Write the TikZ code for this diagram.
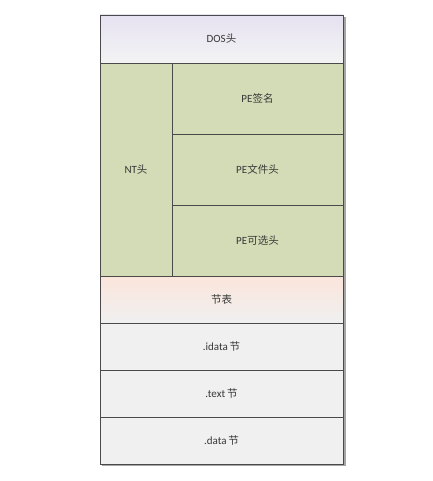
\documentclass[tikz,border=0pt]{standalone}
\usepackage{fontspec}
\setmainfont{Carlito}
\newfontfamily\cjk{Noto Sans CJK SC}
\newcommand{\zh}[1]{{\cjk\fontsize{10.5}{12}\selectfont #1}}
\usetikzlibrary{positioning}
\definecolor{edge}{HTML}{4A4A4A}
\definecolor{pegreen}{HTML}{D3DCB6}
\definecolor{cellgray}{HTML}{F0F0F0}
\definecolor{dostop}{HTML}{E6E2F2}
\definecolor{tabtop}{HTML}{FBE5DB}
\definecolor{txt}{HTML}{383838}

\begin{document}
\begin{tikzpicture}
        [x=1pt,y=-1pt,node distance=0pt,
        cell/.style={rectangle,draw=edge,line width=0.9pt,outer sep=0pt,inner sep=0pt,
                text=txt,font=\fontsize{11}{13}\selectfont},
        wide/.style={cell,minimum width=243pt,minimum height=47pt,fill=cellgray},
        pe/.style={cell,minimum width=171pt,minimum height=71pt,fill=pegreen},
        nt/.style={cell,minimum width=72pt,minimum height=213pt,fill=pegreen}]
        \useasboundingbox (0,0) rectangle (432,481);
        % shadow
        \fill[black!35] (102,17) rectangle (345.5,466);
        \node[wide,minimum height=48pt,top color=dostop,bottom color=cellgray!80!white] (dos) at (221.5,39) {DOS\zh{头}};
        \node[nt,anchor=north west] (nthead) at (dos.south west) {NT\zh{头}};
        \node[pe,anchor=north east] (sig) at (dos.south east) {PE\zh{签名}};
        \node[pe] (filehead)[below=of sig] {PE\zh{文件头}};
        \node[pe] (opthead)[below=of filehead] {PE\zh{可选头}};
        \node[wide,anchor=north west,top color=tabtop,bottom color=cellgray] (sectab) at (nthead.south west) {\zh{节表}};
        \node[wide] (idata)[below=of sectab] {.idata\,\zh{节}};
        \node[wide] (text)[below=of idata] {.text\,\zh{节}};
        \node[wide] (data)[below=of text] {.data\,\zh{节}};
\end{tikzpicture}
\end{document}
